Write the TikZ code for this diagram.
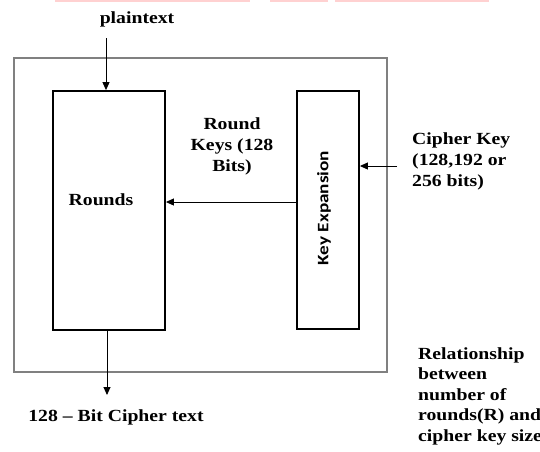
\documentclass[tikz,border=0pt]{standalone}
\usepackage{fontspec}
\newfontfamily\lblfont{Liberation Serif}[FakeStretch=1.16, Ligatures=TeX]
\newfontfamily\keyfont{Carlito}[FakeStretch=1.2]
\usetikzlibrary{arrows.meta}
\begin{document}
\begin{tikzpicture}[x=1pt, y=-1pt, >={Triangle[length=8pt,width=7pt]},
    lbl/.style={font=\lblfont\bfseries\fontsize{17}{21}\selectfont, inner sep=0pt},
    blok/.style={draw, line width=1.8pt},
    pijl/.style={->, line width=0.9pt}]

  \useasboundingbox (0,0) rectangle (540,451);

  % Afgesneden balk bovenaan
  \fill[red!18] (55,0) rectangle (250,2);
  \fill[red!18] (270,0) rectangle (328,2);
  \fill[red!18] (335,0) rectangle (489,2);

  % Kader
  \draw[gray, line width=1.3pt] (14,58) rectangle (387,372);

  % Blokken
  \node[blok, minimum width=112pt, minimum height=239pt] (rounds) at (109,210.5) {};
  \node[lbl] (roundslbl) at (101,200) {Rounds};
  \node[blok, minimum width=62pt, minimum height=238pt] (keyexp) at (328,210) {};
  \node[font=\keyfont\bfseries\fontsize{16}{19}\selectfont, rotate=90, inner sep=0pt]
    (keylbl) at (324,208) {Key Expansion};

  % Hulppunten
  \coordinate (ptin) at (106,38);
  \coordinate (ctout) at (107,395);
  \coordinate (rk) at (0,202);
  \coordinate (ckin) at (397,166);

  % Pijlen
  \draw[pijl] (ptin) -- (ptin |- rounds.north);
  \draw[pijl] (rounds.south -| ctout) -- (ctout);
  \draw[pijl] (keyexp.west |- rk) -- (rounds.east |- rk);
  \draw[pijl] (ckin) -- (keyexp.east |- ckin);

  % Labels
  \node[lbl] (plain) at (137,19) {plaintext};
  \node[lbl] (cipher) at (116,417) {128 – Bit Cipher text};
  \node[lbl, align=center] (rkeys) at (232,146) {Round\\Keys (128\\Bits)};
  \node[lbl, align=left, anchor=west] (ckey) at (412,161.5)
    {Cipher Key\\(128,192 or\\256 bits)};
  \node[lbl, align=left, anchor=west, font=\lblfont\bfseries\fontsize{17}{20.5}\selectfont]
    (relat) at (418,396)
    {Relationship\\between\\number of\\rounds(R) and\\cipher key size};

\end{tikzpicture}
\end{document}
